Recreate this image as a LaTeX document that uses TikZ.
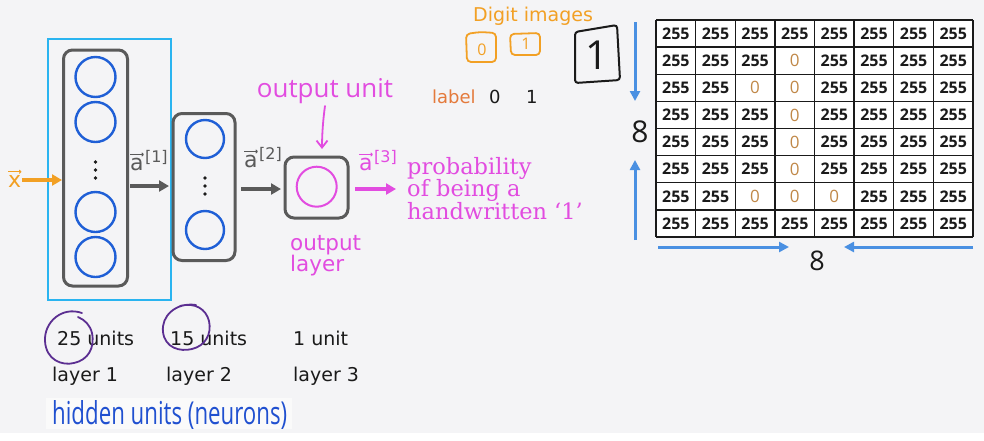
\documentclass[tikz,border=0pt]{standalone}
\usepackage{fontspec}
\usepackage{graphicx}
\setmainfont{DejaVu Sans}
\newfontfamily\probfont{DejaVu Serif}
\newfontfamily\handfont{Open Sans}
\usetikzlibrary{arrows.meta}

\definecolor{bgcol}{HTML}{F4F4F6}
\definecolor{boxgray}{HTML}{5A5A5A}
\definecolor{unitblue}{HTML}{1F5FD6}
\definecolor{hiddencyan}{HTML}{2AB4F0}
\definecolor{inorange}{HTML}{F2A024}
\definecolor{outmag}{HTML}{E24CE0}
\definecolor{arrowblue}{HTML}{4A90E2}
\definecolor{zerobrown}{HTML}{C08848}
\definecolor{labelorange}{HTML}{E47A3C}
\definecolor{loopviolet}{HTML}{5B2E91}
\definecolor{inkblue}{HTML}{2050D0}
\definecolor{ink}{HTML}{1A1A1A}

\newcommand\fs[1]{\fontsize{#1}{#1}\selectfont}

% cells of the 8x8 image that hold a zero
\expandafter\def\csname zc1-3\endcsname{}
\expandafter\def\csname zc2-2\endcsname{}
\expandafter\def\csname zc2-3\endcsname{}
\expandafter\def\csname zc3-3\endcsname{}
\expandafter\def\csname zc4-3\endcsname{}
\expandafter\def\csname zc5-3\endcsname{}
\expandafter\def\csname zc6-2\endcsname{}
\expandafter\def\csname zc6-3\endcsname{}
\expandafter\def\csname zc6-4\endcsname{}

\begin{document}
\begin{tikzpicture}[x=1pt,y=-1pt,
  layerbox/.style={draw=boxgray, line width=3pt, rounded corners=9pt},
  unit/.style={draw=unitblue, line width=2.4pt, circle, minimum size=40pt, inner sep=0pt},
  vdot/.style={fill=ink, circle, inner sep=0pt, minimum size=3.6pt},
  flow/.style={draw=boxgray, line width=4pt, -{Triangle[length=10pt,width=11pt]}},
  dimarrow/.style={draw=arrowblue, line width=3pt, -{Triangle[length=10pt,width=10pt]}},
  vecbar/.style={line width=1.1pt, -{To[length=2.5pt,width=4pt]}},
  txt/.style={inner sep=0pt, anchor=base west, text=ink},
  letter/.style={inner sep=0pt, anchor=base west, font=\fs{22}},
  supidx/.style={inner sep=0pt, anchor=base west, font=\fs{16}},
  pixel/.style={inner sep=0pt, font=\handfont\bfseries\fs{16}},
  loop/.style={draw=loopviolet, line width=1.8pt, line cap=round}
]
\useasboundingbox (0,0) rectangle (984,440);
\fill[bgcol] (0,0) rectangle (984,440);
\fill[white] (0,433) rectangle (984,440);
\fill[white, opacity=0.55] (46,398) rectangle (292,429);

% ---------- network ----------
\node[draw=hiddencyan, line width=2pt, minimum width=123pt, minimum height=261pt, inner sep=0pt]
  (hidden) at (109.5,169.5) {};
\node[layerbox, minimum width=64pt, minimum height=236pt, inner sep=0pt] (l1) at (95.5,168) {};
\node[unit] (u11) at (95.5,77) {};
\node[unit] (u12) at (95.5,122) {};
\node[unit] (u13) at (95.5,212) {};
\node[unit] (u14) at (95.5,257) {};
\node[vdot] (d11) at (95.5,162) {};
\node[vdot] (d12) at (95.5,170) {};
\node[vdot] (d13) at (95.5,178) {};

\node[layerbox, minimum width=62pt, minimum height=147pt, inner sep=0pt] (l2) at (204,187) {};
\node[unit, minimum size=38pt] (u21) at (205,139) {};
\node[unit, minimum size=38pt] (u22) at (205,230) {};
\node[vdot] (d21) at (205,178) {};
\node[vdot] (d22) at (205,186) {};
\node[vdot] (d23) at (205,194) {};

\node[layerbox, minimum width=63pt, minimum height=61pt, inner sep=0pt] (l3) at (316.5,187.5) {};
\node[draw=outmag, line width=2pt, circle, minimum size=40pt, inner sep=0pt] (u31) at (316.7,186.7) {};

% input vector
\node[letter, text=inorange] (xin) at (8,187) {x};
\draw[vecbar, draw=inorange] ([yshift=3pt]xin.north west) -- ([yshift=3pt]xin.north east);
\coordinate (xtip) at (62,180);
\draw[draw=inorange, line width=3.5pt, -{Triangle[length=10pt,width=11pt]}] (xin.east |- xtip) ++(1,0) -- (xtip);

% activations between layers
\coordinate (a1s) at (130,186); \coordinate (a1e) at (169,186);
\draw[flow] (a1s) -- (a1e);
\node[letter, text=boxgray] (a1) at (130,170) {a};
\node[supidx, text=boxgray] (s1) at ([xshift=1pt,yshift=8pt]a1.base east) {[1]};
\draw[vecbar, draw=boxgray] ([yshift=3pt]a1.north west) -- ([yshift=3pt]a1.north east);

\coordinate (a2s) at (241,189); \coordinate (a2e) at (281,189);
\draw[flow] (a2s) -- (a2e);
\node[letter, text=boxgray] (a2) at (244,167) {a};
\node[supidx, text=boxgray] (s2) at ([xshift=1pt,yshift=8pt]a2.base east) {[2]};
\draw[vecbar, draw=boxgray] ([yshift=3pt]a2.north west) -- ([yshift=3pt]a2.north east);

\coordinate (a3s) at (355,189); \coordinate (a3e) at (396,189);
\draw[flow, draw=outmag] (a3s) -- (a3e);
\node[letter, text=outmag] (a3) at (359,170) {a};
\node[supidx, text=outmag] (s3) at ([xshift=1pt,yshift=8pt]a3.base east) {[3]};
\draw[vecbar, draw=outmag] ([yshift=3pt]a3.north west) -- ([yshift=3pt]a3.north east);

\node[txt, text=outmag, align=left, anchor=north west, font=\probfont\fs{22.5}]
  (prob) at (407,157) {\baselineskip=29pt probability\\of being a\\handwritten ‘1’};

\node[inner sep=0pt, text=outmag] (ounit) at (325,91) {\resizebox{136pt}{!}{\handfont output unit}};
\coordinate (outtip) at (322,149);
\draw[draw=outmag, line width=1.8pt, line cap=round, -{Straight Barb[length=7pt,width=11pt]}]
  (325,106) .. controls (323,120) and (322,135) .. (outtip);

\node[txt, text=outmag, align=left, anchor=north west, font=\fs{21.5}]
  (olayer) at (290,235) {\baselineskip=24pt output\\layer};

% unit counts and layer names
\node[txt] (n1) at (57,345) {\fs{19}25 units};
\node[txt] (n2) at (170,345) {\fs{19}15 units};
\node[txt] (n3) at (293,345) {\fs{19}1 unit};
\node[txt] (ly1) at (52,381) {\fs{19}layer 1};
\node[txt] (ly2) at (166,381) {\fs{19}layer 2};
\node[txt] (ly3) at (293,381) {\fs{19}layer 3};

\draw[loop] (82,313) .. controls (62,306) and (44,322) .. (45,341)
  .. controls (46,360) and (62,366) .. (74,363)
  .. controls (88,360) and (95,348) .. (92,333)
  .. controls (90,325) and (85,320) .. (78,317);
\draw[loop] (196,305) .. controls (176,302) and (161,316) .. (163,332)
  .. controls (165,348) and (180,352) .. (192,349)
  .. controls (205,346) and (212,334) .. (209,321)
  .. controls (206,309) and (195,302) .. (180,306);

\node[inner sep=0pt, text=inkblue, anchor=west] (hid) at (52,415) {\resizebox{235pt}{24pt}{\handfont hidden units (neurons)}};

% ---------- digit images ----------
\node[txt, text=inorange] (digits) at (473,21) {\fs{19}Digit images};
\draw[draw=inorange, line width=1.8pt, rounded corners=4pt] (466,34) -- (480,32) -- (496,33) -- (496,62) -- (467,62) -- cycle;
\node[inner sep=0pt, text=inorange] (img0) at (482,50) {\handfont\fs{16}0};
\draw[draw=inorange, line width=1.8pt, rounded corners=4pt] (510,34) -- (540,33) -- (540,55) -- (511,55) -- cycle;
\node[inner sep=0pt, text=inorange] (img1) at (526,44) {\handfont\fs{16}1};

\node[txt, text=labelorange] (lab) at (432,103) {\fs{18}label};
\node[txt] (lab0) at (489,103) {\fs{18}0};
\node[txt] (lab1) at (526,103) {\fs{18}1};

\draw[draw=ink, line width=2pt, rounded corners=3pt] (575,32) -- (617,25) -- (620,80) -- (575,83) -- cycle;
\node[inner sep=0pt, text=ink] (big1) at (597,55) {\handfont\fs{40}1};

% ---------- 8x8 pixel grid ----------
\fill[white] (656,20) rectangle (973,237);
\foreach \i in {0,...,8} {
  \draw[ink, line width=1.3pt] ({656+\i*39.625},20) -- ({656+\i*39.625},237);
  \draw[ink, line width=1.3pt] (656,{20+\i*27.125}) -- (973,{20+\i*27.125});
}
\foreach \r in {0,...,7} {
  \foreach \c in {0,...,7} {
    \ifcsname zc\r-\c\endcsname
      \node[pixel, text=zerobrown, font=\handfont\fs{17}] (p\r-\c) at ({656+(\c+0.5)*39.625},{20+(\r+0.5)*27.125}) {0};
    \else
      \node[pixel, text=ink] (p\r-\c) at ({656+(\c+0.5)*39.625},{20+(\r+0.5)*27.125}) {255};
    \fi
  }
}

% image size markers
\coordinate (vt) at (635,22); \coordinate (vtt) at (635,101);
\coordinate (vb) at (635,240); \coordinate (vbt) at (635,160);
\draw[dimarrow] (vt) -- (vtt);
\draw[dimarrow] (vb) -- (vbt);
\node[inner sep=0pt, text=ink] (rows) at (640,132) {\handfont\fs{30}8};
\coordinate (hl) at (658,247); \coordinate (hlt) at (789,247);
\coordinate (hr) at (973,247); \coordinate (hrt) at (844,247);
\draw[dimarrow] (hl) -- (hlt);
\draw[dimarrow] (hr) -- (hrt);
\node[inner sep=0pt, text=ink] (cols) at (817,261) {\handfont\fs{27}8};
\end{tikzpicture}
\end{document}
